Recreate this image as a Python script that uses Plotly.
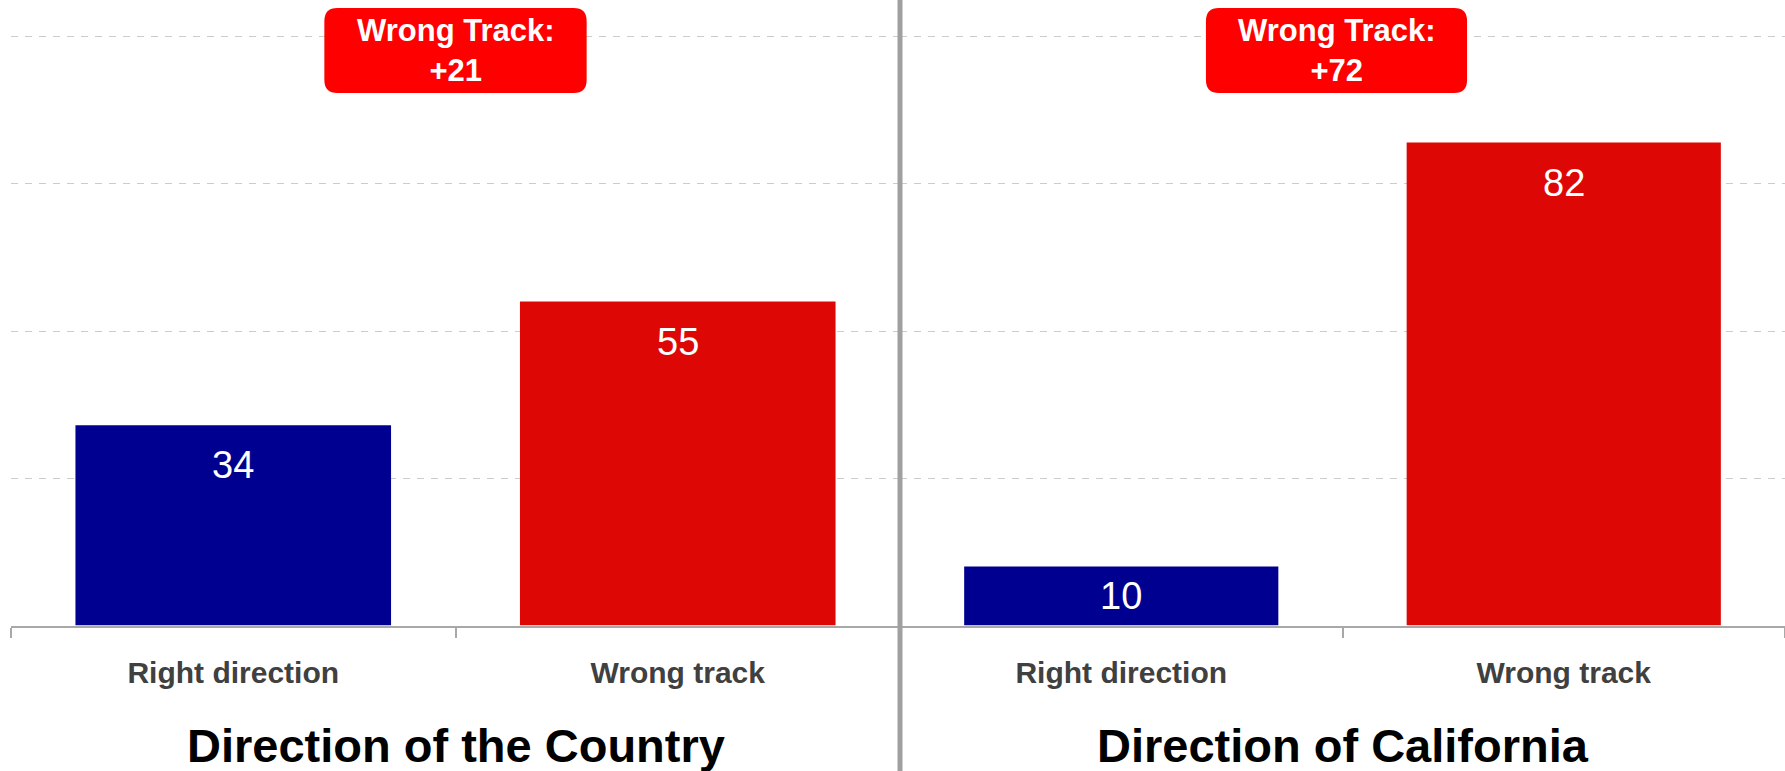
from plotly import graph_objs as go

categories = ["Right direction", "Wrong track"]
country_values = [34, 55]
california_values = [10, 82]
panel_titles = ["Direction of the Country", "Direction of California"]
gap_labels = ["Wrong Track:<br>+21", "Wrong Track:<br>+72"]

BLUE = "#000090"
RED = "#DD0806"
BOX_RED = "#FF0000"
FONT = "Liberation Sans, Arial, sans-serif"

W, H = 1785, 771
left_start = 11 / W
split = 900 / W
y_bottom = (H - 625.5) / H
y_max = 106.2

fig = go.Figure()
fig.add_trace(go.Bar(x=categories, y=country_values, marker=dict(color=[BLUE, RED], line=dict(width=0)),
                     xaxis="x", yaxis="y", showlegend=False, hoverinfo="skip"))
fig.add_trace(go.Bar(x=categories, y=california_values, marker=dict(color=[BLUE, RED], line=dict(width=0)),
                     xaxis="x2", yaxis="y2", showlegend=False, hoverinfo="skip"))

xaxis_style = dict(showline=True, linecolor="#a8a8a8", linewidth=2, ticks="outside", tickson="boundaries",
                   ticklen=10, tickcolor="#a8a8a8", tickwidth=1.5, showgrid=False,
                   tickfont=dict(family=FONT, size=30, color="#404040", weight="bold"),
                   ticklabelstandoff=19, range=[-0.5, 1.5], fixedrange=True)
yaxis_style = dict(range=[0, y_max], showticklabels=False, showgrid=True, gridcolor="#cccccc", gridwidth=1,
                   griddash="7px,7px", tick0=0, dtick=25, zeroline=False, showline=False, ticks="",
                   domain=[y_bottom, 1], fixedrange=True)

fig.update_layout(
    width=W, height=H,
    margin=dict(l=0, r=0, t=0, b=0),
    paper_bgcolor="white", plot_bgcolor="white",
    bargap=0.29,
    xaxis=dict(domain=[left_start, split], anchor="y", **xaxis_style),
    xaxis2=dict(domain=[split, 1], anchor="y2", **xaxis_style),
    yaxis=dict(anchor="x", **yaxis_style),
    yaxis2=dict(anchor="x2", **yaxis_style),
)

# value labels inside the bars
for xref, yref, values in [("x", "y", country_values), ("x2", "y2", california_values)]:
    for cat, v in zip(categories, values):
        if v < 15:
            ypos, shift = v / 2, 0
        else:
            ypos, shift = v, -40
        fig.add_annotation(x=cat, y=ypos, xref=xref, yref=yref, text=str(v), showarrow=False,
                           yanchor="middle", yshift=shift,
                           font=dict(family=FONT, size=38, color="white"))

# rounded red boxes with the gap
box_w, box_h, r = 262 / 888, 85 / H, 13
box_cy = 1 - 50.5 / H
rx, ry = r / 888, r / H
box_cx = [0.5, 0.5 - 6 / 885]
for xd, cx, label in zip(["x domain", "x2 domain"], box_cx, gap_labels):
    x0, x1 = cx - box_w / 2, cx + box_w / 2
    y0, y1 = box_cy - box_h / 2, box_cy + box_h / 2
    path = (f"M {x0 + rx},{y0} L {x1 - rx},{y0} Q {x1},{y0} {x1},{y0 + ry} "
            f"L {x1},{y1 - ry} Q {x1},{y1} {x1 - rx},{y1} L {x0 + rx},{y1} "
            f"Q {x0},{y1} {x0},{y1 - ry} L {x0},{y0 + ry} Q {x0},{y0} {x0 + rx},{y0} Z")
    fig.add_shape(type="path", path=path, xref=xd, yref="paper", fillcolor=BOX_RED, line=dict(width=0),
                  layer="above")
    fig.add_annotation(x=cx, y=box_cy, xref=xd, yref="paper", text=label, showarrow=False,
                       yanchor="middle", font=dict(family=FONT, size=31, color="white", weight="bold"))

# panel titles
for xd, title in zip(["x domain", "x2 domain"], panel_titles):
    fig.add_annotation(x=0.5, y=0, xref=xd, yref="paper", text=title, showarrow=False,
                       yanchor="bottom", yshift=-3,
                       font=dict(family=FONT, size=47, color="black", weight="bold"))

# divider between the two panels
fig.add_shape(type="line", x0=split, x1=split, y0=0, y1=1, xref="paper", yref="paper",
              line=dict(color="#a0a0a0", width=5), layer="above")

fig.write_html("out.html", config={"displayModeBar": False},
               post_script="document.body.style.margin='0';")
